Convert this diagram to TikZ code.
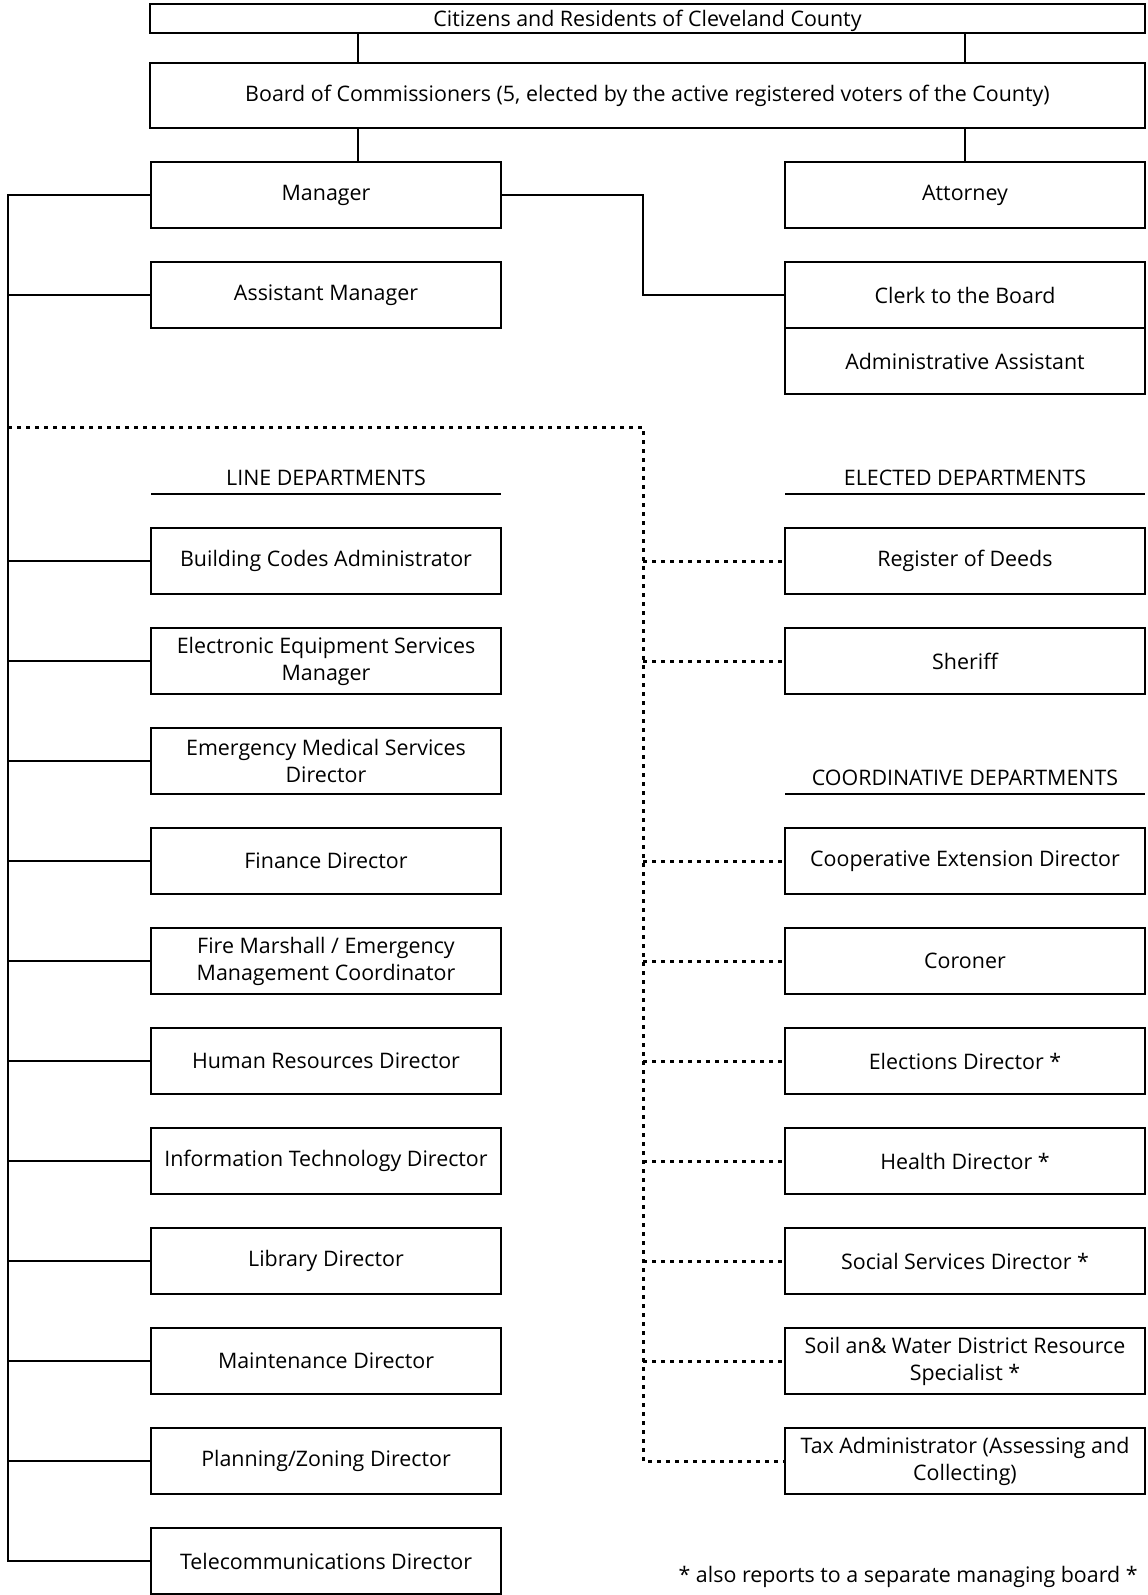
\documentclass[tikz,border=0pt]{standalone}
\usepackage{fontspec}
\setmainfont{Open Sans}
\usepackage{tikz}
\usetikzlibrary{positioning}
\tikzset{
    unit/.style={
        draw=black,
        fill=white,
        rectangle,
        line width=1.4pt,
        align=center,
        inner sep=1pt,
        outer sep=0pt,
        font=\fontsize{10.7}{13.5}\selectfont
    },
    topunit/.style={
        unit,
        minimum width=497.5pt
    },
    lineunit/.style={
        unit,
        minimum width=175pt,
        minimum height=33pt
    },
    sideunit/.style={
        unit,
        minimum width=180pt,
        minimum height=33pt
    },
    heading/.style={
        inner sep=0pt,
        outer sep=0pt,
        minimum height=16pt,
        font=\fontsize{10.7}{13.5}\selectfont
    },
    rule/.style={
        line width=1.4pt
    },
    link/.style={
        line width=1.4pt,
        color=black
    },
    dotlink/.style={
        line width=1.5pt,
        color=black,
        dash pattern=on 2pt off 2.5pt
    },
    footnote/.style={
        inner sep=0pt,
        font=\fontsize{10.7}{13.5}\selectfont
    }
}

\begin{document}
\begin{tikzpicture}[x=0.5pt, y=-0.5pt, node distance=17pt]
    \useasboundingbox (0,0) rectangle (1147,1595);

    % Board level
    \node[topunit, minimum height=14.5pt, inner sep=0pt, text height=7.6pt, text depth=0pt] (citizens) at (647.5,18.5)
        {Citizens and Residents of Cleveland County};
    \node[topunit, minimum height=32.5pt, below=15pt of citizens] (board)
        {Board of Commissioners (5, elected by the active registered voters of the County)};

    % Staff under the board
    \node[lineunit] (manager) at (326,195) {Manager};
    \node[sideunit] (attorney) at (965,195) {Attorney};
    \node[lineunit, below=of manager] (asst) {Assistant Manager};
    \node[sideunit, below=of attorney] (clerk) {Clerk to the Board};
    \node[sideunit, below=0pt of clerk] (admin) {Administrative Assistant};

    % Line departments
    \node[heading, minimum width=175pt] (linehead) at (326,478) {LINE DEPARTMENTS};
    \node[lineunit, below=of linehead] (building) {Building Codes Administrator};
    \node[lineunit, below=of building] (electronic) {Electronic Equipment Services\\Manager};
    \node[lineunit, below=of electronic] (ems) {Emergency Medical Services\\Director};
    \node[lineunit, below=of ems] (finance) {Finance Director};
    \node[lineunit, below=of finance] (fire) {Fire Marshall / Emergency\\Management Coordinator};
    \node[lineunit, below=of fire] (hr) {Human Resources Director};
    \node[lineunit, below=of hr] (it) {Information Technology Director};
    \node[lineunit, below=of it] (library) {Library Director};
    \node[lineunit, below=of library] (maint) {Maintenance Director};
    \node[lineunit, below=of maint] (planning) {Planning/Zoning Director};
    \node[lineunit, below=of planning] (telecom) {Telecommunications Director};

    % Elected departments
    \node[heading, minimum width=180pt] (electhead) at (965,478) {ELECTED DEPARTMENTS};
    \node[sideunit, below=of electhead] (deeds) {Register of Deeds};
    \node[sideunit, below=of deeds] (sheriff) {Sheriff};

    % Coordinative departments
    \node[heading, minimum width=180pt] (coordhead) at (965,778) {COORDINATIVE DEPARTMENTS};
    \node[sideunit, below=of coordhead] (coop) {Cooperative Extension Director};
    \node[sideunit, below=of coop] (coroner) {Coroner};
    \node[sideunit, below=of coroner] (elections) {Elections Director *};
    \node[sideunit, below=of elections] (health) {Health Director *};
    \node[sideunit, below=of health] (social) {Social Services Director *};
    \node[sideunit, below=of social] (soil) {Soil an\& Water District Resource\\Specialist *};
    \node[sideunit, below=of soil] (tax) {Tax Administrator (Assessing and\\Collecting)};

    \node[footnote, anchor=east] (note) at (1138,1577) {* also reports to a separate managing board *};

    % Heading rules
    \draw[rule] (linehead.south west) -- (linehead.south east);
    \draw[rule] (electhead.south west) -- (electhead.south east);
    \draw[rule] (coordhead.south west) -- (coordhead.south east);

    % Helper points
    \coordinate (tap) at (358,0);
    \coordinate (trunk) at (8,0);
    \coordinate (spine) at (643,427);

    % Board connections
    \draw[link] (citizens.south -| tap) -- (board.north -| tap);
    \draw[link] (citizens.south -| attorney) -- (board.north -| attorney);
    \draw[link] (board.south -| tap) -- (manager.north -| tap);
    \draw[link] (board.south -| attorney) -- (attorney.north);
    \draw[link] (manager.east) -- (manager.east -| spine) |- (clerk.west);

    % Manager trunk
    \draw[link] (manager.west) -- (manager.west -| trunk) -- (trunk |- telecom.west) -- (telecom.west);
    \draw[link] (trunk |- asst.west) -- (asst.west);
    \draw[link] (trunk |- building.west) -- (building.west);
    \draw[link] (trunk |- electronic.west) -- (electronic.west);
    \draw[link] (trunk |- ems.west) -- (ems.west);
    \draw[link] (trunk |- finance.west) -- (finance.west);
    \draw[link] (trunk |- fire.west) -- (fire.west);
    \draw[link] (trunk |- hr.west) -- (hr.west);
    \draw[link] (trunk |- it.west) -- (it.west);
    \draw[link] (trunk |- library.west) -- (library.west);
    \draw[link] (trunk |- maint.west) -- (maint.west);
    \draw[link] (trunk |- planning.west) -- (planning.west);

    % Dotted reporting lines
    \draw[dotlink] (trunk |- spine) -- (spine) -- (spine |- tax.west) -- (tax.west);
    \draw[dotlink] (spine |- deeds.west) -- (deeds.west);
    \draw[dotlink] (spine |- sheriff.west) -- (sheriff.west);
    \draw[dotlink] (spine |- coop.west) -- (coop.west);
    \draw[dotlink] (spine |- coroner.west) -- (coroner.west);
    \draw[dotlink] (spine |- elections.west) -- (elections.west);
    \draw[dotlink] (spine |- health.west) -- (health.west);
    \draw[dotlink] (spine |- social.west) -- (social.west);
    \draw[dotlink] (spine |- soil.west) -- (soil.west);
\end{tikzpicture}
\end{document}
